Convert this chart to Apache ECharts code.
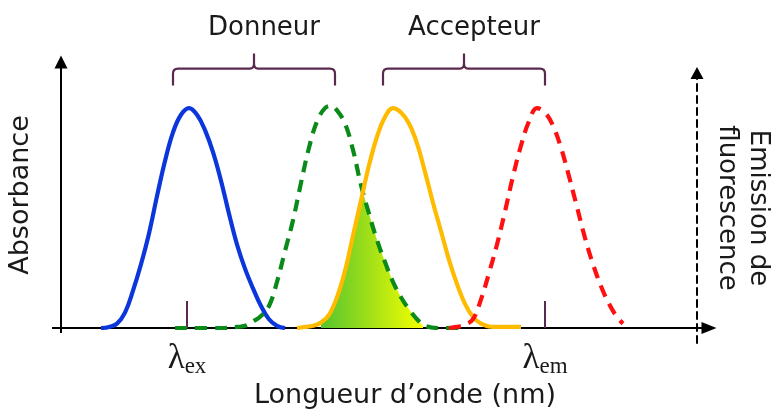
<!DOCTYPE html>
<html>
<head>
<meta charset="utf-8">
<script src="https://cdn.jsdelivr.net/npm/echarts@6/dist/echarts.min.js"></script>
<style>
  html, body { margin: 0; padding: 0; background: #fff; }
  #chart { width: 772px; height: 409px; }
</style>
</head>
<body>
<div id="chart"></div>
<script>
// wavelength (nm) / relative absorbance or emission (peak = 100)
var donorAbsX = [370, 374, 378, 382, 386, 390, 394, 398, 402, 406, 410, 414, 418, 422, 426, 430, 434, 438, 442, 446, 450, 454, 458, 462];
var donorAbsY = [0, 0.5, 2, 7, 17, 29, 43, 60, 76, 89, 97, 100, 97, 90, 80, 67, 52, 38, 27, 18, 10, 4, 1, 0];

var donorEmX = [407, 430, 438, 442, 446, 450, 454, 458, 462, 466, 470, 474, 478, 482, 485, 488, 492, 496, 500, 504, 508, 512, 516, 520, 524, 528, 532, 540, 550];
var donorEmY = [0, 0, 0.5, 1, 3, 5.5, 10, 21, 35, 49, 66, 82, 94, 100, 101, 99, 93, 81, 65, 52, 40, 30, 21, 14, 8.5, 4, 1, 0, 0];

var acceptorAbsX = [468, 472, 476, 480, 484, 488, 492, 496, 500, 504, 508, 512, 516, 520, 524, 528, 532, 536, 540, 544, 548, 552, 556, 560, 566, 580];
var acceptorAbsY = [0, 0.5, 1, 2.5, 6, 14, 26, 42, 58, 74, 87, 96, 100, 98, 93, 84, 71, 57, 44, 31, 20, 11, 5, 2, 0.5, 0.5];

var acceptorEmX = [544, 548, 552, 556, 560, 564, 568, 572, 576, 580, 584, 588, 592, 596, 600, 604, 608, 612, 616, 620, 624, 628, 631];
var acceptorEmY = [0, 0.5, 1.5, 4, 13, 25, 38, 53, 69, 83, 94, 100, 98, 92, 82, 69, 55, 41, 29, 19, 11, 5, 2];

// spectral overlap (shaded)
var overlapX = [480, 484, 488, 492, 496, 500, 501.5, 504, 508, 512, 516, 520, 524, 528, 531];
var overlapY = [2.5, 6, 14, 26, 42, 58, 60, 52, 40, 30, 21, 14, 8.5, 4, 1];

var lambdaTicks = [413, 592];
var lambdaSubs = ['ex', 'em'];

var braceLabels = ['Donneur', 'Accepteur'];
var braceStart = [406, 511];
var braceEnd = [487, 592];
var braceLevel = 118;

function pairs(xs, ys) {
  return xs.map(function (x, i) { return [x, ys[i]]; });
}

var chart = echarts.init(document.getElementById('chart'));
var option;

var font = 'DejaVu Sans';
var purple = '#5a2a4e';

option = {
  animation: false,
  grid: [
    { left: 61, right: 63, top: 62, bottom: 81, outerBoundsMode: 'none' },
    { left: 61, right: 63, top: 62, bottom: 81, outerBoundsMode: 'none' },
    { left: 600, right: 75, top: 73, bottom: 66, outerBoundsMode: 'none' }
  ],
  xAxis: [
    {
      gridIndex: 0, type: 'value', min: 350, max: 674,
      axisLine: { lineStyle: { color: '#000', width: 2 }, symbol: ['none', 'triangle'], symbolSize: [12, 15] },
      axisTick: { show: true, customValues: [350], length: 5, lineStyle: { color: '#000', width: 2 } },
      axisLabel: { show: false },
      splitLine: { show: false },
      name: 'Longueur d\u2019onde (nm)',
      nameLocation: 'middle',
      nameGap: 54,
      nameTextStyle: { fontFamily: font, fontSize: 27, color: '#1a1a1a', padding: [0, 0, 0, 40] }
    },
    {
      gridIndex: 1, type: 'value', min: 350, max: 674, offset: 14,
      axisLine: { show: false },
      axisTick: { show: true, inside: true, customValues: lambdaTicks, length: 27, lineStyle: { color: purple, width: 2 } },
      axisLabel: {
        show: true,
        customValues: lambdaTicks,
        margin: -1,
        formatter: function (v) {
          return '{l|\u03bb}{s|' + lambdaSubs[lambdaTicks.indexOf(v)] + '}';
        },
        rich: {
          l: { fontFamily: 'Liberation Serif', fontSize: 35, lineHeight: 34, verticalAlign: 'top', color: '#1a1a1a' },
          s: { fontFamily: 'Liberation Serif', fontSize: 23, lineHeight: 22, verticalAlign: 'top', padding: [14, 0, 0, 0], color: '#1a1a1a' }
        }
      },
      splitLine: { show: false }
    },
    { gridIndex: 2, type: 'value', show: false }
  ],
  yAxis: [
    {
      gridIndex: 0, type: 'value', min: 0, max: 121,
      axisLine: { show: true, lineStyle: { color: '#000', width: 2 }, symbol: ['none', 'triangle'], symbolSize: [13, 13] },
      axisTick: { show: true, customValues: [0], length: 9, lineStyle: { color: '#000', width: 2 } },
      axisLabel: { show: false },
      splitLine: { show: false },
      name: 'Absorbance',
      nameLocation: 'middle',
      nameRotate: 90,
      nameGap: 27,
      nameTextStyle: { fontFamily: font, fontSize: 27, color: '#1a1a1a' }
    },
    { gridIndex: 1, type: 'value', min: 0, max: 121, show: false },
    {
      gridIndex: 2, type: 'value', position: 'right',
      axisLine: { show: true, onZero: false, lineStyle: { color: '#000', width: 2, type: [7, 5] }, symbol: ['none', 'triangle'], symbolSize: [13, 12] },
      axisTick: { show: false },
      axisLabel: { show: false },
      splitLine: { show: false },
      name: 'Emission de\nfluorescence',
      nameLocation: 'middle',
      nameRotate: -90,
      nameGap: 14,
      nameTextStyle: { fontFamily: font, fontSize: 26, lineHeight: 31, color: '#1a1a1a' }
    }
  ],
  series: [
    {
      name: 'overlap', type: 'line', xAxisIndex: 0, yAxisIndex: 0,
      data: pairs(overlapX, overlapY),
      symbol: 'none', smooth: false,
      lineStyle: { width: 0 },
      areaStyle: {
        opacity: 1,
        color: new echarts.graphic.LinearGradient(0, 0, 1, 0, [
          { offset: 0, color: '#55c42e' },
          { offset: 1, color: '#f6ff00' }
        ])
      },
      z: 1
    },
    {
      name: 'donor absorption', type: 'line', data: pairs(donorAbsX, donorAbsY),
      symbol: 'none', smooth: 0.4, lineStyle: { color: '#0b36dc', width: 4.2 }, z: 3
    },
    {
      name: 'donor emission', type: 'line', data: pairs(donorEmX, donorEmY),
      symbol: 'none', smooth: 0.4, lineStyle: { color: '#0a8a18', width: 4.2, type: [12, 8] }, z: 3
    },
    {
      name: 'acceptor absorption', type: 'line', data: pairs(acceptorAbsX, acceptorAbsY),
      symbol: 'none', smooth: 0.4, lineStyle: { color: '#ffbb00', width: 4.2 }, z: 3
    },
    {
      name: 'acceptor emission', type: 'line', data: pairs(acceptorEmX, acceptorEmY),
      symbol: 'none', smooth: 0.4, lineStyle: { color: '#ff1010', width: 4.2, type: [12, 8] }, z: 3
    },
    {
      name: 'braces', type: 'custom', xAxisIndex: 0, yAxisIndex: 0, clip: false,
      data: braceStart.map(function (s, i) { return [s, braceEnd[i], braceLevel, i]; }),
      renderItem: function (params, api) {
        var p0 = api.coord([api.value(0), api.value(2)]);
        var p1 = api.coord([api.value(1), api.value(2)]);
        var x0 = p0[0], x1 = p1[0], y = p0[1], xm = (x0 + x1) / 2;
        var d = 'M' + x0 + ' ' + (y + 17) + ' L' + x0 + ' ' + (y + 5) +
          ' Q' + x0 + ' ' + y + ' ' + (x0 + 5) + ' ' + y +
          ' L' + (xm - 4) + ' ' + y +
          ' Q' + xm + ' ' + y + ' ' + xm + ' ' + (y - 5) +
          ' L' + xm + ' ' + (y - 15) +
          ' M' + xm + ' ' + (y - 5) +
          ' Q' + xm + ' ' + y + ' ' + (xm + 4) + ' ' + y +
          ' L' + (x1 - 5) + ' ' + y +
          ' Q' + x1 + ' ' + y + ' ' + x1 + ' ' + (y + 5) +
          ' L' + x1 + ' ' + (y + 17);
        return {
          type: 'group',
          children: [
            {
              type: 'path',
              shape: { pathData: d },
              style: { fill: 'none', stroke: purple, lineWidth: 2.2 }
            },
            {
              type: 'text',
              style: {
                text: braceLabels[api.value(3)],
                x: xm + 10, y: y - 40,
                align: 'center', verticalAlign: 'middle',
                fontFamily: font, fontSize: 26, fill: '#1a1a1a'
              }
            }
          ]
        };
      },
      z: 4
    }
  ]
};

option && chart.setOption(option);
</script>
</body>
</html>
